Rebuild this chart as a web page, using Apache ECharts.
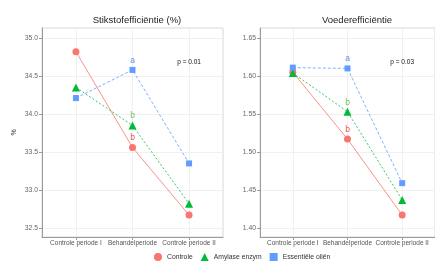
<!DOCTYPE html>
<html>
<head>
<meta charset="utf-8">
<script src="https://cdn.jsdelivr.net/npm/echarts@6/dist/echarts.min.js"></script>
<style>
  html, body { margin: 0; padding: 0; background: #fff; }
  #chart { width: 435px; height: 261px; }
</style>
</head>
<body>
<div id="chart"></div>
<script>
// categories on the x axis (placed at 1, 2, 3)
const periods = ['Controle periode I', 'Behandelperiode', 'Controle periode II'];
const groups = ['Controle', 'Amylase enzym', 'Essentiële oliën'];

// Stikstofefficiëntie (%)
const stikControle = [34.82, 33.56, 32.67];
const stikAmylase = [34.35, 33.85, 32.82];
const stikOlien = [34.21, 34.58, 33.35];
const stikLetters = [['', 'b', ''], ['', 'b', ''], ['', 'a', '']];
const stikTicks = [32.5, 33.0, 33.5, 34.0, 34.5, 35.0];
const stikP = 'p = 0.01';

// Voederefficiëntie
const voerControle = [1.605, 1.517, 1.417];
const voerAmylase = [1.604, 1.553, 1.437];
const voerOlien = [1.611, 1.610, 1.459];
const voerLetters = [['', 'b', ''], ['', 'b', ''], ['', 'a', '']];
const voerTicks = [1.40, 1.45, 1.50, 1.55, 1.60, 1.65];
const voerP = 'p = 0.03';

const colors = ['#F8766D', '#00BA38', '#619CFF'];
const letterColors = ['#D9534F', '#6DBE5C', '#5E93E0'];
const symbols = ['circle', 'triangle', 'rect'];
const sizes = [7, 8, 6];
const lineTypes = ['solid', [2, 2], [3, 2]];

const xPos = [1, 2, 3];
const font = 'Liberation Sans';

let chart = echarts.init(document.getElementById('chart'));

function xAxisFor(idx) {
  return {
    type: 'value', gridIndex: idx, min: 0.4, max: 3.6,
    axisLine: { show: true, lineStyle: { color: '#9a9a9a', width: 1 } },
    axisTick: { show: true, customValues: xPos, length: 3, lineStyle: { color: '#9a9a9a' } },
    axisLabel: {
      customValues: xPos, fontSize: 6.5, color: '#555', margin: 3,
      fontFamily: font, showMinLabel: true, showMaxLabel: true,
      hideOverlap: false,
      formatter: v => periods[Math.round(v) - 1]
    },
    splitLine: { show: true, lineStyle: { color: '#f0f0f0', width: 1 } }
  };
}

function yAxisFor(idx, min, max, ticks, dec) {
  return {
    type: 'value', gridIndex: idx, min: min, max: max,
    name: idx === 0 ? '%' : '', nameLocation: 'middle', nameGap: 24,
    nameTextStyle: { fontSize: 7, color: '#333', fontFamily: font },
    axisLine: { show: true, lineStyle: { color: '#9a9a9a', width: 1 } },
    axisTick: { show: true, customValues: ticks, length: 3, lineStyle: { color: '#9a9a9a' } },
    axisLabel: {
      customValues: ticks, fontSize: 6.8, color: '#666', margin: 4,
      fontFamily: font, showMinLabel: true, showMaxLabel: true,
      formatter: v => v.toFixed(dec)
    },
    splitLine: { show: true, lineStyle: { color: '#f0f0f0', width: 1 } }
  };
}

function seriesFor(idx, values, letters, pText, pY) {
  return values.map((vals, g) => {
    // significance letters and (for the last group) the p-value, as mark points
    let marks = [];
    vals.forEach((v, i) => {
      if (letters[g][i] !== '') {
        marks.push({
          coord: [xPos[i], v], value: letters[g][i],
          label: { show: true, position: 'top', distance: 5, formatter: letters[g][i],
                   fontSize: 8.5, color: letterColors[g], fontFamily: font }
        });
      }
    });
    if (g === 2) {
      marks.push({
        coord: [3, pY], value: pText,
        label: { show: true, position: 'inside', formatter: pText,
                 fontSize: 6.5, color: '#111', fontFamily: font }
      });
    }
    return {
      name: groups[g], type: 'line', xAxisIndex: idx, yAxisIndex: idx,
      data: vals.map((v, i) => [xPos[i], v]),
      symbol: symbols[g], symbolSize: sizes[g], showSymbol: true,
      itemStyle: { color: colors[g] },
      lineStyle: { color: colors[g], width: 0.8, type: lineTypes[g] },
      emphasis: { disabled: true },
      markPoint: { symbol: 'circle', symbolSize: 0, silent: true, data: marks },
      z: 3 + (g === 2 ? 1 : 0),
      animation: false
    };
  });
}

const option = {
  backgroundColor: '#fff',
  animation: false,
  title: [
    { text: 'Stikstofefficiëntie (%)', left: 132, top: 10, textAlign: 'center',
      textStyle: { fontSize: 9.5, fontWeight: 'normal', color: '#222', fontFamily: font } },
    { text: 'Voederefficiëntie', left: 352, top: 10, textAlign: 'center',
      textStyle: { fontSize: 9.5, fontWeight: 'normal', color: '#222', fontFamily: font } }
  ],
  legend: {
    data: groups.map((n, g) => ({ name: n, icon: symbols[g] })),
    left: 154, top: 253, itemWidth: 8, itemHeight: 8, itemGap: 8, padding: 0,
    textStyle: { fontSize: 6.8, color: '#333', fontFamily: font }
  },
  grid: [
    { left: 42, top: 28, width: 181, height: 209, show: true, borderColor: '#d8d8d8', borderWidth: 1 },
    { left: 260, top: 28, width: 182, height: 209, show: true, borderColor: '#d8d8d8', borderWidth: 1 }
  ],
  xAxis: [xAxisFor(0), xAxisFor(1)],
  yAxis: [
    yAxisFor(0, 32.3816, 35.1316, stikTicks, 1),
    yAxisFor(1, 1.38816, 1.66316, voerTicks, 2)
  ],
  series: [].concat(
    seriesFor(0, [stikControle, stikAmylase, stikOlien], stikLetters, stikP, 34.68),
    seriesFor(1, [voerControle, voerAmylase, voerOlien], voerLetters, voerP, 1.618)
  )
};

chart.setOption(option);
</script>
</body>
</html>
